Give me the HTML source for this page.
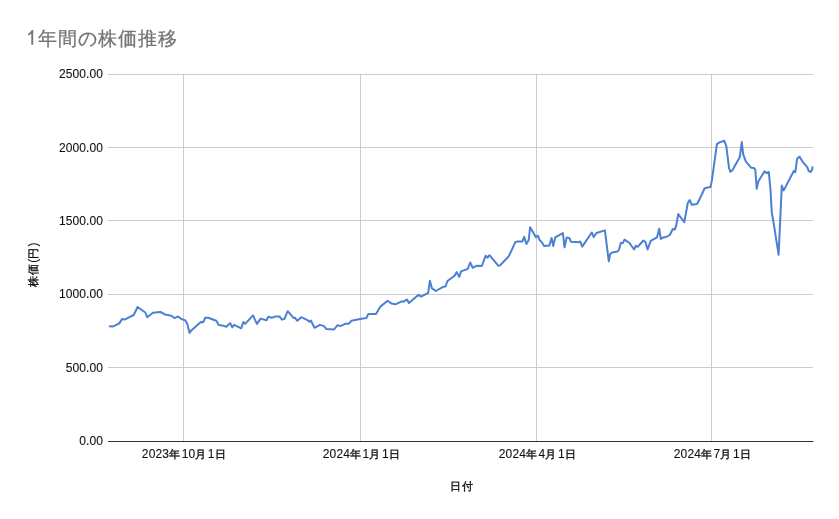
<!DOCTYPE html>
<html><head><meta charset="utf-8"><style>
html,body{margin:0;padding:0;background:#fff;width:839px;height:519px;overflow:hidden}
svg{display:block;will-change:transform;font-family:"Liberation Sans",sans-serif}
.d{stroke:#111;stroke-width:0.1px}
.k{stroke:#111;stroke-width:0.35px}
.kx{font-size:11.3px;letter-spacing:1.5px}
.kt{stroke:#757575;stroke-width:0.3px}
</style></head><body>
<svg width="839" height="519" viewBox="0 0 839 519">
<rect width="839" height="519" fill="#fff"/>
<path d="M33.2,30.1 L31.7,30.1 Q31,31.6 29.6,32.7 Q28.8,33.3 28.1,33.6 L28.1,35.5 Q30.1,34.6 31.3,33.4 L31.3,44.8 L33.2,44.8 Z" fill="#757575"/>
<text x="37.92" y="45" font-size="18.6" fill="#757575" class="kt" letter-spacing="0.95">年間の株価推移</text>
<line x1="108" y1="74.5" x2="813" y2="74.5" stroke="#cccccc" stroke-width="1"/>
<line x1="108" y1="147.5" x2="813" y2="147.5" stroke="#cccccc" stroke-width="1"/>
<line x1="108" y1="220.5" x2="813" y2="220.5" stroke="#cccccc" stroke-width="1"/>
<line x1="108" y1="294.5" x2="813" y2="294.5" stroke="#cccccc" stroke-width="1"/>
<line x1="108" y1="367.5" x2="813" y2="367.5" stroke="#cccccc" stroke-width="1"/>
<line x1="183.5" y1="74" x2="183.5" y2="441" stroke="#cccccc" stroke-width="1"/>
<line x1="360.5" y1="74" x2="360.5" y2="441" stroke="#cccccc" stroke-width="1"/>
<line x1="536.5" y1="74" x2="536.5" y2="441" stroke="#cccccc" stroke-width="1"/>
<line x1="711.5" y1="74" x2="711.5" y2="441" stroke="#cccccc" stroke-width="1"/>
<line x1="108" y1="441.5" x2="813.5" y2="441.5" stroke="#333" stroke-width="1"/>
<g font-size="12" fill="#111" class="d">
<text x="103.1" y="78" text-anchor="end" letter-spacing="0.12">2500.00</text>
<text x="103.1" y="152" text-anchor="end" letter-spacing="0.12">2000.00</text>
<text x="103.1" y="225" text-anchor="end" letter-spacing="0.12">1500.00</text>
<text x="103.1" y="298" text-anchor="end" letter-spacing="0.12">1000.00</text>
<text x="103.1" y="372" text-anchor="end" letter-spacing="0.12">500.00</text>
<text x="103.1" y="445" text-anchor="end" letter-spacing="0.12">0.00</text>
<text x="184.5" y="458" text-anchor="middle" letter-spacing="0.15">2023<tspan class="k kx">年</tspan>10<tspan class="k kx">月</tspan>1<tspan class="k kx">日</tspan></text>
<text x="362.0" y="458" text-anchor="middle" letter-spacing="0.15">2024<tspan class="k kx">年</tspan>1<tspan class="k kx">月</tspan>1<tspan class="k kx">日</tspan></text>
<text x="538.0" y="458" text-anchor="middle" letter-spacing="0.15">2024<tspan class="k kx">年</tspan>4<tspan class="k kx">月</tspan>1<tspan class="k kx">日</tspan></text>
<text x="713.0" y="458" text-anchor="middle" letter-spacing="0.15">2024<tspan class="k kx">年</tspan>7<tspan class="k kx">月</tspan>1<tspan class="k kx">日</tspan></text>
<text x="462.1" y="489.9" text-anchor="middle" class="k" font-size="10.6" letter-spacing="1.1">日付</text>
<text transform="translate(36.6,265) rotate(-90)" text-anchor="middle"><tspan class="k" font-size="11" letter-spacing="1.3">株価</tspan>(<tspan class="k" font-size="11" letter-spacing="1.3">円</tspan>)</text>
</g>
<polyline points="108.9,326.2 112.5,326.6 115.4,325.4 119.3,323.4 122.2,318.9 124.6,319.6 128.9,317.4 133.7,315.0 137.6,307.0 145.3,312.5 147.2,317.2 153.0,312.8 160.2,311.9 165.1,314.5 171.3,315.7 174.7,318.1 178.1,316.4 180.6,318.6 185.4,320.5 187.3,323.9 189.6,332.9 191.3,330.4 200.8,322.0 203.3,322.2 205.2,317.7 208.1,317.7 216.3,320.8 218.7,324.9 222.0,325.4 226.4,326.8 230.2,323.1 232.2,327.3 234.1,324.9 241.3,328.3 243.3,322.0 245.2,323.9 253.0,315.4 256.9,323.9 260.7,318.6 266.5,320.3 268.4,316.7 271.8,317.7 275.7,316.4 279.5,316.4 281.9,319.6 284.3,319.1 287.7,311.2 293.5,317.9 294.9,317.7 297.3,320.8 301.2,317.2 307.0,319.9 309.4,321.8 310.8,320.5 314.5,327.8 320.1,324.9 324.0,326.1 326.4,329.0 334.1,329.5 337.5,325.2 340.4,326.1 345.7,323.7 349.0,323.7 351.4,320.7 360.1,318.9 366.4,318.1 368.3,313.9 376.0,314.1 380.4,306.6 387.6,300.8 391.6,303.6 395.4,304.3 401.2,301.6 403.6,301.6 407.0,299.5 408.9,302.9 418.6,294.7 421.0,296.6 428.2,292.8 429.9,280.7 432.0,288.4 435.9,291.0 443.1,286.8 445.5,286.5 447.5,281.0 454.8,275.5 456.7,272.1 459.2,276.9 461.1,271.4 467.8,268.9 470.2,262.5 472.7,267.8 477.0,265.7 481.8,266.0 485.7,255.7 487.6,257.7 489.5,255.2 498.2,265.7 500.1,265.4 508.8,256.2 515.5,241.9 517.5,241.6 522.3,241.6 524.2,236.9 526.4,244.0 528.7,240.1 530.1,227.3 535.9,237.2 537.8,235.7 539.8,240.5 541.7,242.0 544.1,246.0 549.4,245.4 551.6,237.9 553.3,246.0 555.2,237.4 562.9,233.1 564.5,247.3 566.7,237.4 569.2,237.9 571.1,241.8 578.8,242.2 580.2,241.5 582.2,246.6 591.8,232.5 593.7,237.0 596.5,233.0 604.9,230.4 608.8,261.3 610.2,254.0 612.2,252.6 617.5,251.4 618.9,249.9 620.8,243.0 622.8,243.1 624.5,239.6 629.5,243.0 634.1,249.5 635.8,245.8 637.7,246.8 643.5,240.5 645.4,242.0 647.6,249.5 650.7,240.8 657.0,237.4 659.2,228.7 660.8,238.9 663.3,237.4 666.1,237.0 670.0,234.8 672.8,229.0 674.8,229.6 676.2,225.6 678.2,214.1 684.3,222.2 687.7,203.3 689.7,200.0 691.7,204.7 697.1,204.0 700.5,197.3 704.5,188.5 706.5,187.8 710.6,186.9 711.9,180.4 716.9,144.2 719.6,142.4 724.3,140.8 726.3,146.2 729.0,167.8 730.4,171.8 732.4,170.2 739.8,157.0 741.8,142.1 743.2,154.3 745.9,161.7 751.3,167.8 754.0,168.0 755.3,169.8 756.7,188.7 758.2,181.8 764.4,171.4 766.8,173.1 768.8,172.0 770.5,190.0 771.8,212.9 773.2,220.3 778.6,254.7 781.8,185.6 783.7,190.4 793.8,171.0 795.3,172.1 797.2,158.7 799.4,156.6 803.6,163.0 806.9,166.7 808.8,171.0 810.6,172.1 812.2,169.4 812.6,166.3" fill="none" stroke="#4b80d2" stroke-width="2" stroke-linejoin="round" stroke-linecap="butt"/>
</svg>
</body></html>
